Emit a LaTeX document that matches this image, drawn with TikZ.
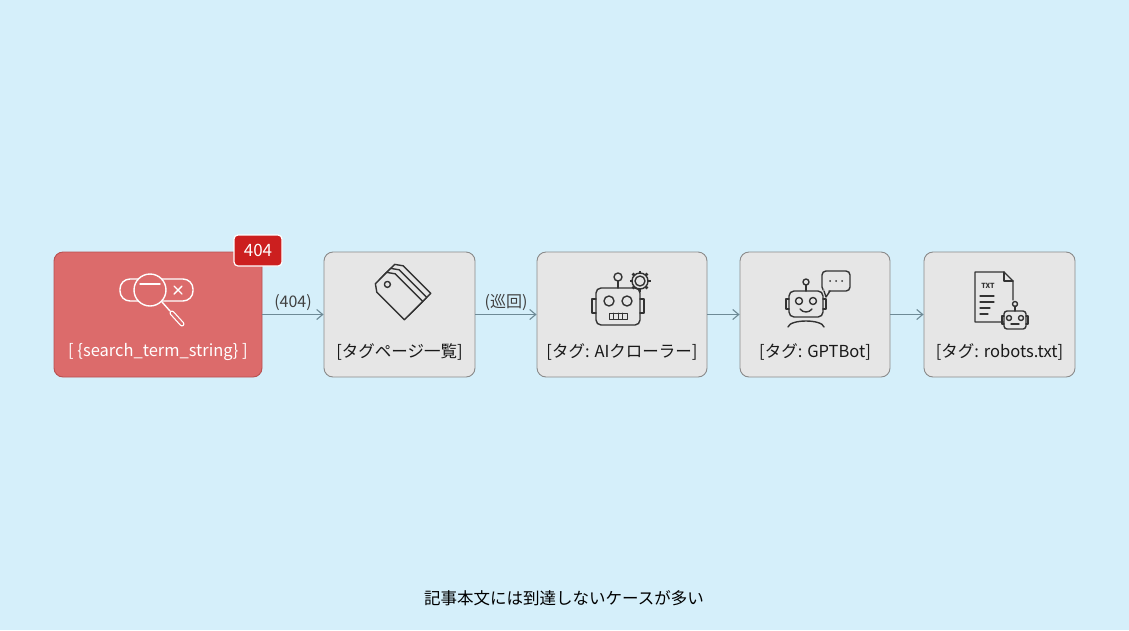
\documentclass[tikz,border=0pt]{standalone}
\usepackage{fontspec}
\setmainfont{Noto Sans CJK JP}
\usetikzlibrary{arrows.meta, positioning}
\definecolor{bgblue}{HTML}{D5EFFA}
\definecolor{redbox}{HTML}{DC6B6B}
\definecolor{redline}{HTML}{B85050}
\definecolor{badgered}{HTML}{CC1F1F}
\definecolor{graybox}{HTML}{E6E6E6}
\definecolor{grayline}{HTML}{8A8A8A}
\definecolor{arrowcol}{HTML}{6E8A96}
\definecolor{icon}{HTML}{333333}
\tikzset{
  stepbox/.style={draw=grayline, fill=graybox, rounded corners=9pt, line width=0.9pt, minimum height=125pt},
  boxlabel/.style={font=\fontsize{16.5}{20}\selectfont, text=black!90},
  flow/.style={draw=arrowcol, line width=1.1pt, -{Straight Barb[length=6pt,width=10pt]}},
  ico/.style={draw=icon, line width=1.4pt, line cap=round, line join=round}
}
\begin{document}
\begin{tikzpicture}[x=1pt, y=-1pt]
  \fill[bgblue] (0,0) rectangle (1129,630);
  \useasboundingbox (0,0) rectangle (1129,630);
  % Boxes
  \node[stepbox, draw=redline, fill=redbox, minimum width=208pt] (search) at (158,314.5) {};
  \node[stepbox, minimum width=151pt] (tags) at (399.5,314.5) {};
  \node[stepbox, minimum width=170pt] (crawler) at (622,314.5) {};
  \node[stepbox, minimum width=150pt] (gptbot) at (815,314.5) {};
  \node[stepbox, minimum width=151pt] (robots) at (999.5,314.5) {};
  \node[draw=white, fill=badgered, rounded corners=4pt, line width=1.2pt, minimum width=48pt, minimum height=31pt,
        text=white, font=\fontsize{17}{18}\selectfont] (badge) at (258,250.5) {404};
  % Labels
  \node[boxlabel, text=white] (searchtxt) at (158,352) {[ \{search\_term\_string\} ]};
  \node[boxlabel] (tagstxt) at (399.5,352) {[タグページ一覧]};
  \node[boxlabel] (crawlertxt) at (622,352) {[タグ: AIクローラー]};
  \node[boxlabel] (gptbottxt) at (815,352) {[タグ: GPTBot]};
  \node[boxlabel] (robotstxt) at (999.5,352) {[タグ: robots.txt]};
  % Arrows
  \draw[flow] (search) -- node[above, font=\fontsize{16}{18}\selectfont, text=black!75] {(404)} (tags);
  \draw[flow] (tags) -- node[above, font=\fontsize{16}{18}\selectfont, text=black!75] {(巡回)} (crawler);
  \draw[flow] (crawler) -- (gptbot);
  \draw[flow] (gptbot) -- (robots);
  % Icons
  \begin{scope}[ico, draw=white]
    \draw[rounded corners=10pt] (120,279) rectangle (193,301);
    \draw[fill=redbox] (150,290) circle (16);
    \draw (140,284) -- (160,284);
    \draw (162,302) -- (170,311);
    \draw[line width=5pt] (172,313) -- (182,324);
    \draw[line width=2.5pt, redbox] (172,313) -- (182,324);
    \draw (174,286) -- (182,294) (182,286) -- (174,294);
  \end{scope}
  \begin{scope}[ico, shift={(398,295)}]
    \foreach \d in {8,4} {
      \draw[shift={(\d,-\d)}, rotate=-45, fill=graybox] (-24,-8) -- (-17,-13) -- (22,-13) -- (22,13) -- (-17,13) -- (-24,8) -- cycle;
    }
    \draw[rotate=-45, fill=graybox] (-24,-8) -- (-17,-13) -- (22,-13) -- (22,13) -- (-17,13) -- (-24,8) -- cycle;
    \draw[rotate=-45] (-15,0) circle (3);
  \end{scope}
  \begin{scope}[ico, shift={(618,305)}]
    \draw[rounded corners=5pt] (-22,-17) rectangle (22,20);
    \draw (-22,-6) -- (-26,-6) -- (-26,8) -- (-22,8) (22,-6) -- (26,-6) -- (26,8) -- (22,8);
    \draw (-9,-4) circle (5) (9,-4) circle (5);
    \draw[line width=1pt] (-9,8) rectangle (9,14);
    \foreach \x in {-4.5,0,4.5} \draw[line width=0.8pt] (\x,8) -- (\x,14);
    \draw (0,-17) -- (0,-24);
    \draw (0,-28) circle (4);
    \draw (22,-24) circle (5);
    \foreach \a in {0,45,...,315} \draw[line width=2.5pt, line cap=butt] (22,-24) ++(\a:7.5) -- ++(\a:3);
    \draw (22,-24) circle (8);
  \end{scope}
  \begin{scope}[ico, shift={(806,305)}]
    \draw[rounded corners=5pt] (-17,-14) rectangle (17,12);
    \draw (-17,-6) -- (-20,-6) -- (-20,4) -- (-17,4) (17,-6) -- (20,-6) -- (20,4) -- (17,4);
    \draw (-7,-4) circle (3.5) (7,-4) circle (3.5);
    \draw (-6,4) .. controls (-3,8) and (3,8) .. (6,4);
    \draw (0,-14) -- (0,-20);
    \draw (0,-23) circle (3);
    \draw (-18,22) .. controls (-16,14) and (16,14) .. (18,22);
    \draw[rounded corners=4pt] (16,-34) rectangle (44,-14);
    \draw[fill=graybox, draw=graybox] (18,-15) -- (22,-15) -- (20,-10) -- cycle;
    \draw (18,-14) -- (20,-8) -- (24,-14);
    \foreach \x in {24,30,36} \fill[icon] (\x,-24) circle (1);
  \end{scope}
  \begin{scope}[ico, shift={(996,300)}]
    \draw (10,22) -- (-21,22) -- (-21,-28) -- (8,-28) -- (17,-19) -- (17,0);
    \draw (8,-28) -- (8,-19) -- (17,-19);
    \node[font=\bfseries\fontsize{7}{8}\selectfont, text=icon] (txtword) at (-8,-14) {TXT};
    \foreach \y/\l in {-4/14,2/14,8/10,14/8} \draw[line width=1.2pt] (-16,\y) -- (-16+\l,\y);
    \draw[rounded corners=3pt, fill=graybox] (8,11) rectangle (30,29);
    \draw (19,11) -- (19,6);
    \draw (19,4) circle (2.5);
    \draw (13,18) circle (2.5) (25,18) circle (2.5);
    \draw (15,24) -- (23,24);
    \draw (8,16) -- (6,16) -- (6,24) -- (8,24) (30,16) -- (32,16) -- (32,24) -- (30,24);
  \end{scope}
  % Note
  \node[font=\fontsize{16.5}{18}\selectfont] (note) at (564,598) {記事本文には到達しないケースが多い};
\end{tikzpicture}
\end{document}
